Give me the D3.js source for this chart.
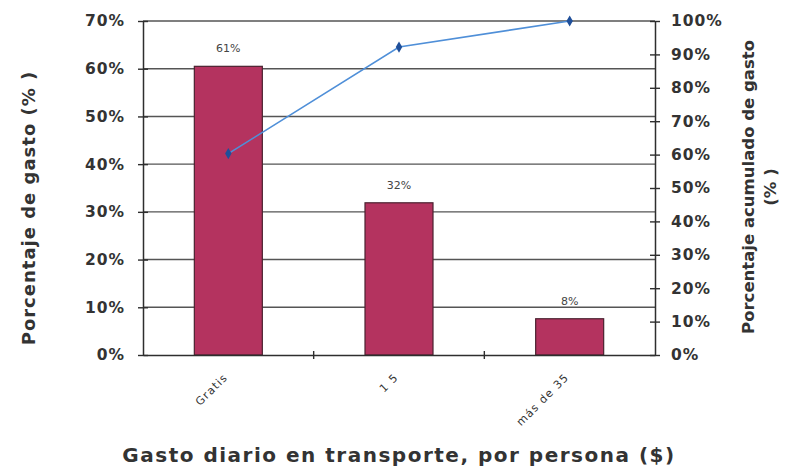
<!DOCTYPE html>
<html><head><meta charset="utf-8">
<script src="https://cdn.jsdelivr.net/npm/d3@7"></script>
<style>body{margin:0;background:#fff}svg{display:block}</style>
</head><body><svg id="c" width="789" height="470"></svg>
<script>
const categories = ["Gratis", "1 5", "más de 35"];
const barValues = [60.5, 31.9, 7.6];
const barLabels = ["61%", "32%", "8%"];
const cumValues = [60.3, 92.2, 100];
const leftTicks = [0,10,20,30,40,50,60,70];
const rightTicks = [0,10,20,30,40,50,60,70,80,90,100];

const svg = d3.select("#c");
const m = {l:143, r:655, t:21, b:355};
const xb = d3.scaleBand().domain(categories).range([m.l, m.r]);
const yL = d3.scaleLinear().domain([0,70]).range([m.b, m.t]);
const yR = d3.scaleLinear().domain([0,100]).range([m.b, m.t]);
const font = "'DejaVu Sans', Verdana, sans-serif";
const dark = "#2e2e2e";

// gridlines
svg.append("g").selectAll("line").data(leftTicks.filter(d=>d>0)).join("line")
  .attr("x1", m.l).attr("x2", m.r).attr("y1", d=>yL(d)).attr("y2", d=>yL(d))
  .attr("stroke", "#555").attr("stroke-width", 1.4);

// bars
svg.append("g").selectAll("rect").data(categories).join("rect")
  .attr("x", d=>xb(d)+xb.bandwidth()/2 - 34)
  .attr("width", 68)
  .attr("y", (d,i)=>yL(barValues[i]))
  .attr("height", (d,i)=>m.b - yL(barValues[i]))
  .attr("fill", "#b4335f").attr("stroke", "#4a2230").attr("stroke-width", 1.2);

// bar labels
svg.append("g").selectAll("text").data(categories).join("text")
  .attr("x", d=>xb(d)+xb.bandwidth()/2)
  .attr("y", (d,i)=>yL(barValues[i]) - 14)
  .attr("text-anchor", "middle")
  .attr("font-family", font).attr("font-size", 11).attr("fill", "#444")
  .text((d,i)=>barLabels[i]);

// left axis
const gL = svg.append("g").attr("transform", `translate(${m.l},0)`)
  .call(d3.axisLeft(yL).tickValues(leftTicks).tickFormat(d=>d+"%").tickSizeInner(5).tickSizeOuter(0));
gL.select(".domain").attr("stroke", dark).attr("stroke-width", 1.5);
gL.selectAll(".tick line").attr("x2", 5).attr("x1", -5).attr("stroke", dark).attr("stroke-width", 1.4);
gL.selectAll(".tick text").attr("x", -18).attr("font-family", font).attr("font-weight", "bold")
  .attr("font-size", 15.5).attr("letter-spacing", 1).attr("fill", "#333");

// right axis
const gR = svg.append("g").attr("transform", `translate(${m.r},0)`)
  .call(d3.axisRight(yR).tickValues(rightTicks).tickFormat(d=>d+"%").tickSizeInner(5).tickSizeOuter(0));
gR.select(".domain").attr("stroke", dark).attr("stroke-width", 1.5);
gR.selectAll(".tick line").attr("x1", -5).attr("x2", 5).attr("stroke", dark).attr("stroke-width", 1.4);
gR.selectAll(".tick text").attr("x", 16).attr("font-family", font).attr("font-weight", "bold")
  .attr("font-size", 15.5).attr("letter-spacing", 1).attr("fill", "#333");

// bottom axis
const gB = svg.append("g").attr("transform", `translate(0,${m.b})`)
  .call(d3.axisBottom(xb).tickSize(0).tickPadding(0));
gB.select(".domain").attr("stroke", dark).attr("stroke-width", 1.5);
gB.selectAll(".tick text").remove();
svg.append("g").selectAll("line").data(categories.slice(1)).join("line")
  .attr("x1", d=>xb(d)).attr("x2", d=>xb(d)).attr("y1", m.b-4).attr("y2", m.b+4)
  .attr("stroke", dark).attr("stroke-width", 1.4);
svg.append("g").selectAll("text").data(categories).join("text")
  .attr("transform", d=>`translate(${xb(d)+xb.bandwidth()/2},${m.b+23}) rotate(-45)`)
  .attr("text-anchor", "end")
  .attr("font-family", font).attr("font-size", 11).attr("letter-spacing", 1.2).attr("fill", "#333")
  .text(d=>d);

// cumulative line
const line = d3.line().x((d,i)=>xb(categories[i])+xb.bandwidth()/2).y(d=>yR(d));
svg.append("path").datum(cumValues).attr("d", line)
  .attr("fill", "none").attr("stroke", "#4f8fd8").attr("stroke-width", 1.6);
svg.append("g").selectAll("path").data(cumValues).join("path")
  .attr("d", d3.symbol(d3.symbolDiamond, 36))
  .attr("transform", (d,i)=>`translate(${xb(categories[i])+xb.bandwidth()/2},${yR(d)})`)
  .attr("fill", "#1f4f9a");

// titles
svg.append("text").attr("transform", `translate(35,208) rotate(-90)`)
  .attr("text-anchor", "middle").attr("font-family", font).attr("font-weight", "bold")
  .attr("font-size", 18).attr("letter-spacing", 1).attr("fill", "#333").text("Porcentaje de gasto (% )");
svg.append("text").attr("transform", `translate(754,187) rotate(-90)`)
  .attr("text-anchor", "middle").attr("font-family", font).attr("font-weight", "bold")
  .attr("font-size", 16.5).attr("fill", "#333").text("Porcentaje acumulado de gasto");
svg.append("text").attr("transform", `translate(776,187) rotate(-90)`)
  .attr("text-anchor", "middle").attr("font-family", font).attr("font-weight", "bold")
  .attr("font-size", 16.5).attr("fill", "#333").text("(% )");
svg.append("text").attr("x", 399).attr("y", 462)
  .attr("text-anchor", "middle").attr("font-family", font).attr("font-weight", "bold")
  .attr("font-size", 20).attr("letter-spacing", 1.5).attr("fill", "#333").text("Gasto diario en transporte, por persona ($)");
</script></body></html>
